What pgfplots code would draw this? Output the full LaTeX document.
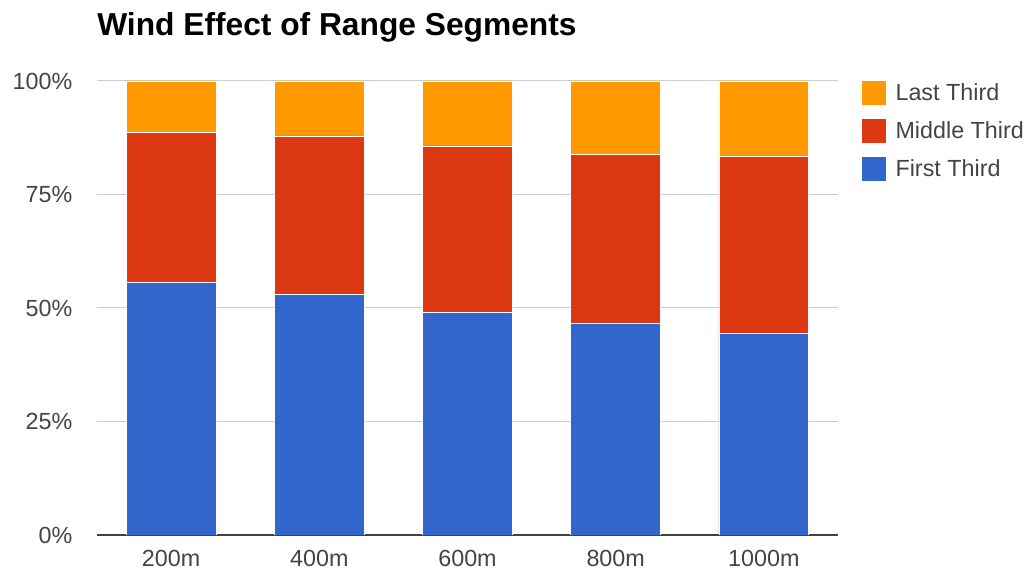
\documentclass[border=0pt]{standalone}
\usepackage{pgfplots}
\pgfplotsset{compat=1.18}
\usepackage{fontspec}
\setmainfont{Liberation Sans}
\definecolor{cLast}{HTML}{FF9900}
\definecolor{cMid}{HTML}{DC3912}
\definecolor{cFirst}{HTML}{3366CC}
\definecolor{cGrid}{HTML}{CCCCCC}
\definecolor{cText}{HTML}{444444}
\begin{document}
\begin{tikzpicture}
\useasboundingbox (-72.75pt,-28.5pt) rectangle (702.75pt,401.25pt);
\begin{axis}[
  at={(0pt,0pt)}, anchor=south west,
  scale only axis,
  width=555.75pt, height=340.5pt,
  ybar stacked, bar width=0.607,
  xmin=-0.5, xmax=4.5, ymin=0, ymax=100,
  xtick={0,1,2,3,4},
  xticklabels={200m,400m,600m,800m,1000m},
  ytick={0,25,50,75,100},
  yticklabels={0\%,25\%,50\%,75\%,100\%},
  tick style={draw=none},
  ymajorgrids, grid style={cGrid, line width=0.75pt},
  axis x line*=bottom, axis y line*=left,
  y axis line style={draw=none},
  x axis line style={draw=black!75, line width=1pt, -},
  ticklabel style={font=\fontsize{17.5}{20}\selectfont, text=cText},
  xticklabel style={yshift=-8pt},
  yticklabel style={xshift=-15pt},
  every axis plot/.append style={draw=white, line width=0.6pt},
  legend style={at={(1.026,1.007)}, anchor=north west, draw=none, fill=none,
    font=\fontsize{17.5}{20}\selectfont, text=cText, row sep=10.5pt,
    /tikz/every odd column/.style={column sep=5.5pt}},
  legend cell align=left,
  reverse legend,
  legend image code/.code={\fill[#1,draw=none] (0pt,-9pt) rectangle (18pt,9pt);},
]
\addplot[fill=cFirst] coordinates {(0,55.7) (1,53.1) (2,49.1) (3,46.5) (4,44.3)};
\addplot[fill=cMid] coordinates {(0,33.0) (1,34.8) (2,36.6) (3,37.4) (4,39.2)};
\addplot[fill=cLast] coordinates {(0,11.3) (1,12.1) (2,14.3) (3,16.1) (4,16.5)};
\legend{First Third, Middle Third, Last Third}
\end{axis}
\node[anchor=base west, inner sep=0pt, font=\bfseries\fontsize{23.8}{26}\selectfont]
  at (0pt,374.25pt) {Wind Effect of Range Segments};
\end{tikzpicture}
\end{document}
